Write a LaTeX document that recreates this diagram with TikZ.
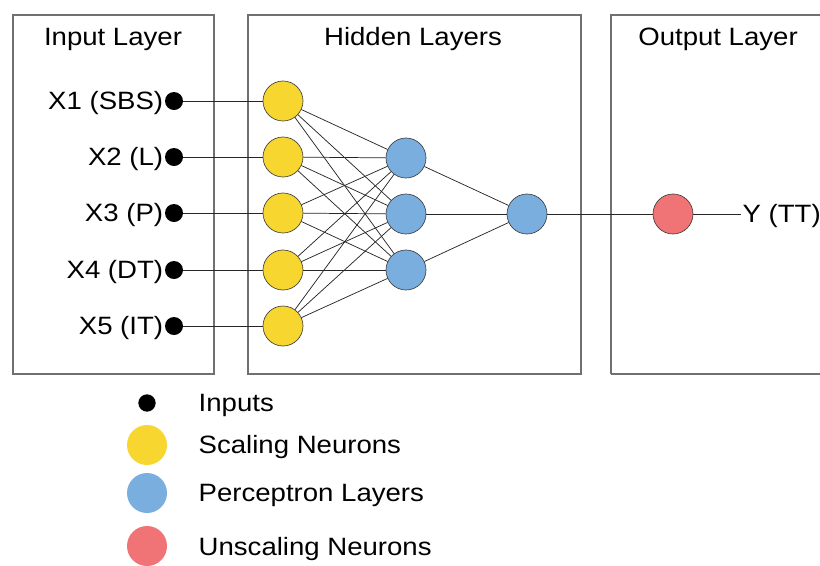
\documentclass[tikz,border=0pt]{standalone}
\usepackage{fontspec}
\setmainfont{Liberation Sans}[FakeStretch=1.1]
\definecolor{scaleyellow}{HTML}{F7D630}
\definecolor{percblue}{HTML}{7AAEDE}
\definecolor{unscred}{HTML}{F07375}
\definecolor{framegray}{HTML}{707070}
\begin{document}
\begin{tikzpicture}[x=0.75pt,y=-0.75pt,
  layerbox/.style={draw=framegray,line width=0.8pt},
  title/.style={font=\fontsize{18.8}{22}\selectfont,anchor=center},
  lbl/.style={font=\fontsize{18.8}{22}\selectfont},
  inputdot/.style={circle,fill=black,inner sep=0pt,minimum size=13.5pt},
  neuron/.style={circle,draw=black!75,line width=0.5pt,inner sep=0pt,minimum size=30pt},
  scaling/.style={neuron,fill=scaleyellow},
  perceptron/.style={neuron,fill=percblue},
  unscaling/.style={neuron,fill=unscred},
  link/.style={black!85,line width=0.55pt},
  legdot/.style={circle,inner sep=0pt,minimum size=30pt}]
\useasboundingbox (0,0) rectangle (820,565);

% layer frames
\draw[layerbox] (13,15) rectangle (214,374);
\draw[layerbox] (248,15) rectangle (581,374);
\draw[layerbox] (611,374) -- (611,15) -- (830,15);
\draw[layerbox] (611,374) -- (830,374);

\node[title] (tin) at (113,39) {Input Layer};
\node[title] (thid) at (413,39) {Hidden Layers};
\node[title] (tout) at (718,39) {Output Layer};

% inputs
\foreach \i/\y/\t in {1/101/X1 (SBS),2/157/X2 (L),3/213/X3 (P),4/270/X4 (DT),5/326/X5 (IT)}{
  \node[inputdot] (x\i) at (174,\y) {};
  \node[lbl,anchor=east,inner sep=1pt,yshift=-1.5pt] (xl\i) at (x\i.west) {\t};
  \node[scaling] (s\i) at (283,\y) {};
}

% perceptron layers
\node[perceptron] (h1) at (406,158) {};
\node[perceptron] (h2) at (406,214) {};
\node[perceptron] (h3) at (406,270) {};
\node[perceptron] (o) at (527,214) {};
\node[unscaling] (u) at (673,214) {};
\node[lbl,anchor=west,inner sep=1pt] (y) at (741,216) {Y (TT)};

% connections
\foreach \i in {1,...,5}{
  \draw[link] (x\i) -- (s\i);
  \foreach \j in {1,2,3}{
    \draw[link] (s\i) -- (h\j);
  }
}
\foreach \j in {1,2,3}{
  \draw[link] (h\j) -- (o);
}
\draw[link] (o) -- (u);
\draw[link] (u) -- (y.west |- u);

% legend
\node[legdot,fill=black,minimum size=13pt] (k1) at (147,403) {};
\node[legdot,fill=scaleyellow] (k2) at (147,445) {};
\node[legdot,fill=percblue] (k3) at (147,493) {};
\node[legdot,fill=unscred] (k4) at (147,546) {};
\node[lbl,anchor=west] (kt1) at (194,405) {Inputs};
\node[lbl,anchor=west] (kt2) at (194,447) {Scaling Neurons};
\node[lbl,anchor=west] (kt3) at (194,495) {Perceptron Layers};
\node[lbl,anchor=west] (kt4) at (194,549) {Unscaling Neurons};
\end{tikzpicture}
\end{document}
